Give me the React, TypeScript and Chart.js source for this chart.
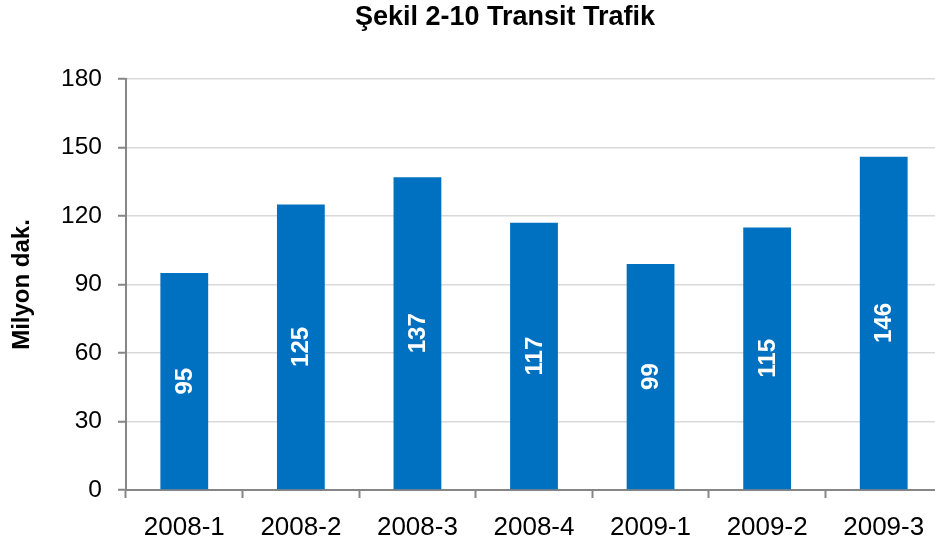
import React, { useEffect, useRef } from "react";
import { Chart, registerables } from "chart.js";

Chart.register(...registerables);

const title = "Şekil 2-10 Transit Trafik";
const yAxisTitle = "Milyon dak.";
const categories = ["2008-1", "2008-2", "2008-3", "2008-4", "2009-1", "2009-2", "2009-3"];
const values = [95, 125, 137, 117, 99, 115, 146];
const yMin = 0;
const yMax = 180;
const yStep = 30;

const FONT = "'Liberation Sans', Arial, sans-serif";

const barLabelPlugin = {
  id: "barLabels",
  afterDatasetsDraw(chart: any) {
    const ctx = chart.ctx;
    const meta = chart.getDatasetMeta(0);
    ctx.save();
    ctx.fillStyle = "#ffffff";
    ctx.font = `bold 24px ${FONT}`;
    ctx.textAlign = "center";
    ctx.textBaseline = "middle";
    meta.data.forEach((el: any, i: number) => {
      const cx = el.x;
      const cy = (el.y + el.base) / 2;
      ctx.save();
      ctx.translate(cx + 1, cy);
      ctx.rotate(-Math.PI / 2);
      ctx.fillText(String(values[i]), 0, 0);
      ctx.restore();
    });
    ctx.restore();
  },
};

const titlePlugin = {
  id: "customTitle",
  afterDraw(chart: any) {
    const ctx = chart.ctx;
    ctx.save();
    ctx.fillStyle = "#000000";
    ctx.font = `bold 27px ${FONT}`;
    ctx.textAlign = "center";
    ctx.textBaseline = "alphabetic";
    ctx.fillText(title, 505, 25);
    ctx.restore();
  },
};

export default function App() {
  const ref = useRef<HTMLCanvasElement | null>(null);

  useEffect(() => {
    document.body.style.margin = "0";
    document.body.style.overflow = "hidden";
    if (!ref.current) return;
    const chart = new Chart(ref.current, {
      type: "bar",
      data: {
        labels: categories,
        datasets: [
          {
            data: values,
            backgroundColor: "#0070C0",
            borderWidth: 0,
            barPercentage: 0.41,
            categoryPercentage: 1,
          },
        ],
      },
      options: {
        animation: false,
        responsive: false,
        maintainAspectRatio: false,
        layout: { padding: { top: 79, left: 0, right: 0, bottom: 0 } },
        plugins: {
          legend: { display: false },
          title: { display: false },
          tooltip: { enabled: false },
        },
        scales: {
          x: {
            offset: true,
            grid: {
              offset: true,
              drawOnChartArea: false,
              drawTicks: true,
              tickLength: 8,
              tickColor: "#868686",
              tickWidth: 2,
            },
            border: { color: "#868686", width: 2 },
            ticks: {
              color: "#000000",
              font: { family: FONT, size: 26 },
              padding: 14,
              maxRotation: 0,
              autoSkip: false,
            },
            afterFit(scale: any) {
              scale.height = 60;
            },
          },
          y: {
            min: yMin,
            max: yMax,
            grid: {
              color: "#d9d9d9",
              lineWidth: 1.5,
              tickLength: 8,
              tickColor: "#868686",
              tickWidth: 2,
            },
            border: { color: "#868686", width: 2 },
            ticks: {
              stepSize: yStep,
              color: "#000000",
              font: { family: FONT, size: 24.5 },
              padding: 16,
            },
            title: {
              display: true,
              text: yAxisTitle,
              color: "#000000",
              font: { family: FONT, size: 24, weight: "bold" },
              padding: { top: 8, bottom: 0 },
            },
            afterFit(scale: any) {
              scale.width = 126;
            },
          },
        },
      },
      plugins: [barLabelPlugin, titlePlugin],
    });
    return () => chart.destroy();
  }, []);

  return (
    <div style={{ position: "fixed", left: 0, top: 0, width: 942, height: 550 }}>
      <canvas ref={ref} width={942} height={550} style={{ width: 942, height: 550, display: "block" }} />
    </div>
  );
}
